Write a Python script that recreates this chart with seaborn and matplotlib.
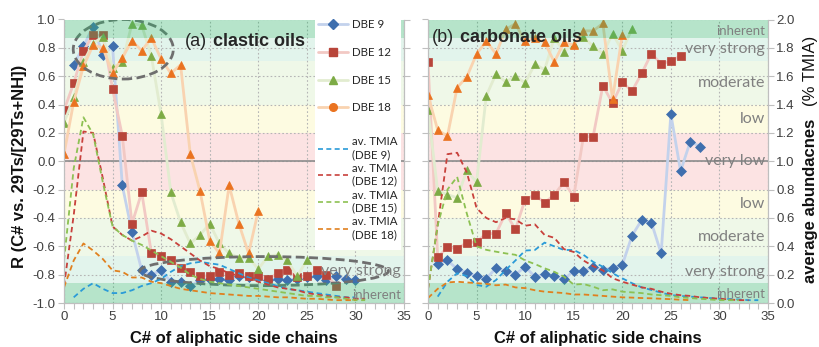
import matplotlib
matplotlib.use("Agg")
import matplotlib.pyplot as plt
import seaborn as sns
import numpy as np
import pandas as pd
from matplotlib.patches import Ellipse, Rectangle
from matplotlib.lines import Line2D
from matplotlib.ticker import MultipleLocator, FormatStrFormatter, NullFormatter

# ---------------- data : (a) clastic oils  (R values) ----------------
a_x9 = list(range(1, 31))
a_r9 = [0.68, 0.81, 0.95, 0.75, 0.81, -0.17, -0.50, -0.77, -0.80, -0.77, -0.85, -0.85, -0.88, -0.84, -0.83,
        -0.83, -0.84, -0.81, -0.82, -0.82, -0.84, -0.83, -0.84, -0.83, -0.82, -0.81, -0.84, -0.81, -0.83, -0.84]
a_x12 = list(range(0, 29))
a_r12 = [0.36, 0.55, 0.78, 0.89, 0.89, 0.51, 0.18, -0.44, -0.22, -0.65, -0.67, -0.70, -0.75, -0.78, -0.81,
         -0.81, -0.78, -0.80, -0.79, -0.81, -0.81, -0.83, -0.79, -0.77, -0.82, -0.81, -0.77, -0.80, -0.88]
a_x15 = list(range(0, 26))
a_r15 = [0.27, 0.45, 0.70, 0.83, 0.88, 0.66, 0.70, 0.97, 0.96, 0.74, 0.33, -0.22, -0.43, -0.58, -0.52,
         -0.44, -0.58, -0.65, -0.68, -0.68, -0.76, -0.67, -0.66, -0.70, -0.81, -0.70]
a_x18 = list(range(0, 21))
a_r18 = [0.05, 0.42, 0.67, 0.82, 0.80, 0.62, 0.73, 0.85, 0.78, 0.87, 0.72, 0.62, 0.68, 0.05, -0.21,
         -0.56, -0.65, -0.17, -0.44, -0.65, -0.35]

# av. TMIA (% TMIA) clastic
a_tx9 = list(range(1, 31))
a_t9 = [0.04, 0.10, 0.14, 0.10, 0.07, 0.07, 0.09, 0.12, 0.14, 0.17, 0.22, 0.26, 0.28, 0.29, 0.28,
        0.27, 0.24, 0.21, 0.18, 0.16, 0.14, 0.12, 0.10, 0.09, 0.08, 0.07, 0.06, 0.05, 0.04, 0.04]
a_tx12 = list(range(0, 32))
a_t12 = [0.12, 0.62, 1.21, 1.20, 0.88, 0.54, 0.48, 0.44, 0.47, 0.51, 0.49, 0.45, 0.40, 0.35, 0.30, 0.26,
         0.24, 0.21, 0.19, 0.17, 0.15, 0.13, 0.11, 0.10, 0.09, 0.07, 0.06, 0.05, 0.04, 0.04, 0.03, 0.03]
a_tx15 = list(range(0, 32))
a_t15 = [0.30, 0.95, 1.31, 1.19, 0.85, 0.54, 0.48, 0.44, 0.41, 0.37, 0.33, 0.29, 0.25, 0.20, 0.17, 0.15,
         0.14, 0.13, 0.12, 0.11, 0.10, 0.09, 0.08, 0.07, 0.06, 0.05, 0.05, 0.04, 0.04, 0.03, 0.02, 0.02]
a_tx18 = list(range(0, 31))
a_t18 = [0.11, 0.30, 0.42, 0.37, 0.31, 0.23, 0.22, 0.18, 0.18, 0.15, 0.14, 0.12, 0.10, 0.09, 0.08, 0.07,
         0.065, 0.06, 0.055, 0.05, 0.05, 0.045, 0.04, 0.04, 0.035, 0.03, 0.03, 0.025, 0.02, 0.02, 0.02]

# ---------------- data : (b) carbonate oils  (R values) ----------------
b_x9 = list(range(1, 29))
b_r9 = [-0.725, -0.70, -0.76, -0.786, -0.81, -0.828, -0.753, -0.774, -0.80, -0.744, -0.814, -0.798, -0.807,
        -0.833, -0.774, -0.774, -0.744, -0.767, -0.751, -0.732, -0.525, -0.414, -0.433, -0.65, 0.333,
        -0.07, 0.139, 0.104]
b_x12 = list(range(0, 27))
b_r12 = [0.70, -0.678, -0.607, -0.616, -0.574, -0.57, -0.51, -0.51, -0.367, -0.48, -0.27, -0.238, -0.292,
         -0.238, -0.146, -0.25, 0.174, 0.174, 0.533, 0.41, 0.557, 0.495, 0.62, 0.76, 0.687, 0.707, 0.744]
b_x15 = list(range(0, 22))
b_r15 = [0.36, -0.21, -0.235, -0.258, -0.065, -0.148, 0.462, 0.616, 0.56, 0.60, 0.553, 0.686, 0.645, 0.87,
         0.774, 0.83, 0.88, 0.81, 0.76, 0.90, 0.78, 0.935]
b_x18 = list(range(0, 21))
b_r18 = [0.465, 0.22, 0.177, 0.52, 0.595, 0.757, 0.847, 0.757, 0.93, 0.97, 0.845, 0.87, 0.84, 0.70, 0.84,
         0.82, 0.92, 0.92, 0.972, 0.438, 0.894]

# av. TMIA (% TMIA) carbonate
b_tx9 = list(range(1, 35))
b_t9 = [0.045, 0.15, 0.21, 0.19, 0.127, 0.115, 0.162, 0.233, 0.30, 0.37, 0.374, 0.426, 0.40, 0.374, 0.374,
        0.34, 0.29, 0.256, 0.21, 0.174, 0.14, 0.11, 0.092, 0.073, 0.056, 0.05, 0.045, 0.04, 0.035, 0.03,
        0.028, 0.025, 0.02, 0.02]
b_tx12 = list(range(0, 34))
b_t12 = [0.10, 0.55, 1.05, 1.06, 0.92, 0.67, 0.60, 0.57, 0.60, 0.59, 0.545, 0.555, 0.48, 0.46, 0.38, 0.36,
         0.30, 0.26, 0.23, 0.175, 0.15, 0.13, 0.11, 0.10, 0.08, 0.065, 0.055, 0.05, 0.04, 0.035, 0.03,
         0.025, 0.02, 0.02]
b_tx15 = list(range(0, 33))
b_t15 = [0.10, 0.55, 0.80, 0.89, 0.63, 0.40, 0.375, 0.362, 0.35, 0.34, 0.30, 0.275, 0.245, 0.22, 0.186,
         0.13, 0.134, 0.115, 0.09, 0.096, 0.08, 0.075, 0.07, 0.06, 0.055, 0.05, 0.04, 0.035, 0.03, 0.025,
         0.02, 0.02, 0.02]
b_tx18 = list(range(0, 28))
b_t18 = [0.035, 0.10, 0.145, 0.15, 0.145, 0.14, 0.135, 0.125, 0.13, 0.11, 0.105, 0.09, 0.08, 0.075, 0.07,
         0.06, 0.06, 0.055, 0.05, 0.045, 0.04, 0.038, 0.035, 0.033, 0.03, 0.027, 0.023, 0.02]

# correlation-strength bands (R)
band_lo = [-0.86, -0.67, -0.40, -0.20, 0.20, 0.40, 0.71]
band_hi = [-0.67, -0.40, -0.20, 0.20, 0.40, 0.71, 0.87]
band_col = ["#e2f4ec", "#eff8e8", "#fdfbe1", "#fce3e3", "#fdfbe1", "#eff8e8", "#e2f4ec"]
inherent_lo = [-1.0, 0.87]
inherent_hi = [-0.86, 1.0]
band_names = ["inherent", "very strong", "moderate", "low", "very low", "low", "moderate", "very strong", "inherent"]
band_name_pos = [0.92, 0.79, 0.555, 0.30, 0.0, -0.30, -0.535, -0.78, -0.94]

series_labels = ["DBE 9", "DBE 12", "DBE 15", "DBE 18"]
tmia_labels = ["av. TMIA\n(DBE 9)", "av. TMIA\n(DBE 12)", "av. TMIA\n(DBE 15)", "av. TMIA\n(DBE 18)"]

mk_col = ["#3f6fae", "#b8453a", "#7dab45", "#ea7320"]
ln_col = ["#c3d2ec", "#f2c9c4", "#e2ecd0", "#f9d3b0"]
ds_col = ["#2a9bd8", "#c8413c", "#8dc153", "#e0801f"]
markers = ["D", "s", "^", "^"]
msizes = [5.5, 6.3, 6.3, 5.5]

sns.set_theme(style="white")
plt.rcParams["font.family"] = ["Liberation Sans", "DejaVu Sans"]
plt.rcParams["axes.unicode_minus"] = False

fig = plt.figure(figsize=(8.2, 3.47), dpi=100)
W, H = 820.0, 347.0
axL = fig.add_axes([64 / W, (H - 303) / H, 340 / W, 283.5 / H])
axR = fig.add_axes([428 / W, (H - 303) / H, 340 / W, 283.5 / H])
axL2 = axL.twinx()
axR2 = axR.twinx()

spine_c = "#bfbfbf"
tick_lab_c = "#404040"


def style(ax, ax2, show_left, show_right):
    ax.set_xlim(0, 35)
    ax.set_ylim(-1, 1)
    ax2.set_ylim(0, 2)
    for lo, hi, c in zip(band_lo, band_hi, band_col):
        ax.axhspan(lo, hi, color=c, lw=0, zorder=0)
    ax.set_axisbelow(True)
    ax.xaxis.set_major_locator(MultipleLocator(5))
    ax.xaxis.set_minor_locator(MultipleLocator(1))
    ax.yaxis.set_major_locator(MultipleLocator(0.2))
    ax.yaxis.set_major_formatter(FormatStrFormatter("%.1f"))
    ax2.yaxis.set_major_locator(MultipleLocator(0.2))
    ax2.yaxis.set_major_formatter(FormatStrFormatter("%.1f"))
    ax.grid(True, which="major", color="#b5b5b5", linestyle=(0, (1.5, 2)), linewidth=0.8)
    ax.axhline(0, color="#8c8c8c", lw=1.2, zorder=1)
    for a in (ax, ax2):
        a.tick_params(axis="both", which="both", direction="out", length=4, width=0.8,
                      color=spine_c, labelcolor=tick_lab_c, labelsize=9.5, pad=2)
        for s in a.spines.values():
            s.set_color(spine_c)
            s.set_linewidth(0.8)
        a.spines["top"].set_visible(False)
    ax.tick_params(axis="x", which="both", bottom=True)
    ax.tick_params(axis="y", left=True)
    if not show_left:
        ax.yaxis.set_major_formatter(NullFormatter())
    if not show_right:
        ax2.yaxis.set_major_formatter(NullFormatter())
    ax2.tick_params(axis="y", right=True)
    ax.set_xlabel("")
    ax.set_ylabel("")
    ax2.set_ylabel("")
    for lo, hi in zip(inherent_lo, inherent_hi):
        ax2.axhspan(lo + 1, hi + 1, color="#35b56e", alpha=0.36, lw=0, zorder=1)


def draw(ax, ax2, xs_list, rs_list, txs_list, ts_list):
    for i in range(4):
        sns.lineplot(x=xs_list[i], y=rs_list[i], ax=ax, color=ln_col[i], linewidth=2.0,
                     marker=markers[i], markersize=msizes[i], markerfacecolor=mk_col[i],
                     markeredgecolor=mk_col[i], markeredgewidth=0.5, errorbar=None,
                     legend=False, zorder=3 + i * 0.1)
    for i in range(4):
        sns.lineplot(x=txs_list[i], y=ts_list[i], ax=ax2, color=ds_col[i], linewidth=1.3,
                     linestyle=(0, (3, 2)), errorbar=None, legend=False, zorder=2)


style(axL, axL2, True, False)
style(axR, axR2, False, True)
draw(axL, axL2, [a_x9, a_x12, a_x15, a_x18], [a_r9, a_r12, a_r15, a_r18],
     [a_tx9, a_tx12, a_tx15, a_tx18], [a_t9, a_t12, a_t15, a_t18])
draw(axR, axR2, [b_x9, b_x12, b_x15, b_x18], [b_r9, b_r12, b_r15, b_r18],
     [b_tx9, b_tx12, b_tx15, b_tx18], [b_t9, b_t12, b_t15, b_t18])

# dashed highlight ellipses (panel a)
for (cx, cy, w, h) in [(6.1, 0.79, 10.3, 0.42), (20.6, -0.775, 25.6, 0.205)]:
    axL.add_patch(Ellipse((cx, cy), w, h, fill=False, edgecolor="#6e6e6e", lw=2.0,
                          linestyle=(0, (3.2, 1.6)), zorder=6))

# band names
for name, pos in zip(band_names, band_name_pos):
    fs = 9.5 if name == "inherent" else 11.5
    axR2.text(34.7, pos + 1, name, ha="right", va="center", fontsize=fs, color="#808080",
              family=["Lato", "DejaVu Sans"], zorder=8)
for name, pos in [("very strong", -0.775), ("inherent", -0.945)]:
    fs = 9.5 if name == "inherent" else 11.5
    axL2.text(34.7, pos + 1, name, ha="right", va="center", fontsize=fs, color="#808080",
              family=["Lato", "DejaVu Sans"], zorder=8)

# legend (two stacked legends on a shared white box)
axL2.add_patch(Rectangle((315 / W, (H - 250) / H), 86 / W, 232 / H, transform=fig.transFigure,
                         facecolor="white", edgecolor="none", zorder=9))
h1 = [Line2D([], [], color=ln_col[i], lw=2, marker=m, markersize=s, markerfacecolor=mk_col[i],
             markeredgecolor=mk_col[i]) for i, (m, s) in enumerate(zip(["D", "s", "^", "o"], [5, 6, 6, 5.5]))]
h2 = [Line2D([], [], color=ds_col[i], lw=1.2, linestyle=(0, (3, 2))) for i in range(4)]
lfont = {"family": ["Lato", "DejaVu Sans"], "size": 8.3}
leg1 = axL2.legend(h1, series_labels, loc="upper left", bbox_to_anchor=(316 / W, (H - 17) / H),
                   bbox_transform=fig.transFigure, frameon=False, prop=lfont, handlelength=2.6,
                   handletextpad=0.35, labelspacing=1.45, borderpad=0.2, borderaxespad=0)
leg1.set_zorder(10)
axL2.add_artist(leg1)
leg2 = axL2.legend(h2, tmia_labels, loc="upper left", bbox_to_anchor=(316 / W, (H - 134) / H),
                   bbox_transform=fig.transFigure, frameon=False, prop=lfont, handlelength=2.6,
                   handletextpad=0.35, labelspacing=0.25, borderpad=0.2, borderaxespad=0)
leg2.set_zorder(10)

# panel titles
t1 = fig.text(185 / W, (H - 42) / H, "(a)", fontsize=13, ha="left", va="center", zorder=12)
axL2.annotate("clastic oils", xy=(1, 0.5), xycoords=t1, xytext=(4, 0), textcoords="offset points",
              ha="left", va="center", fontsize=13, fontweight="bold", zorder=12)
t2 = fig.text(432 / W, (H - 38) / H, "(b)", fontsize=13, ha="left", va="center", zorder=12)
axR2.annotate("carbonate oils", xy=(1, 0.5), xycoords=t2, xytext=(4, 0), textcoords="offset points",
              ha="left", va="center", fontsize=13, fontweight="bold", zorder=12)

# axis labels
fig.text(20 / W, (H - 166) / H, "R (C# vs. 29Ts/[29Ts+NH])", rotation=90, ha="center", va="center",
         fontsize=12, fontweight="bold", color="#111111")
fig.text(811 / W, (H - 201) / H, "average abundacnes", rotation=90, ha="center", va="center",
         fontsize=12, fontweight="bold", color="#111111")
fig.text(811 / W, (H - 71) / H, "(% TMIA)", rotation=90, ha="center", va="center",
         fontsize=12, color="#111111")
for ax in (axL, axR):
    pos = ax.get_position()
    fig.text(pos.x0 + pos.width / 2, (H - 339) / H, "C# of aliphatic side chains", ha="center",
             va="center", fontsize=12, fontweight="bold", color="#111111")

fig.savefig("out.png", dpi=100)
